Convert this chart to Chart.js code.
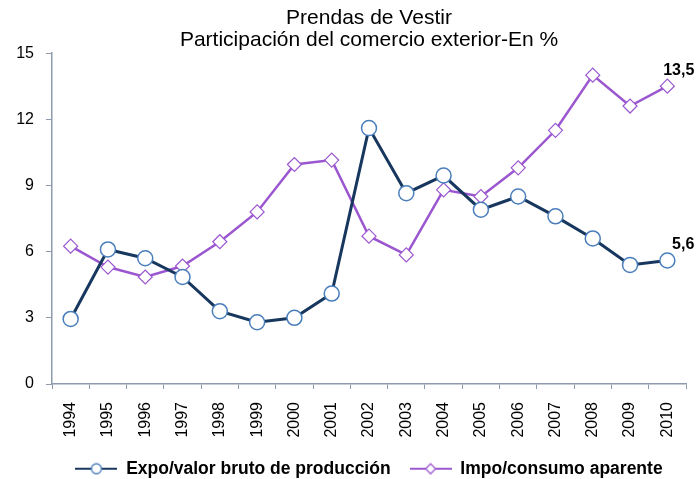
<!DOCTYPE html>
<html lang="es">
<head>
    <meta charset="UTF-8">
    <title>Prendas de Vestir</title>
    <style>
        body {
            margin: 0;
            background: #fff;
        }

        .chart-box {
            width: 700px;
            height: 479px;
        }
    </style>
</head>
<body>
    <div class="chart-box">
        <canvas id="tradeChart"></canvas>
    </div>
    <script src="https://cdn.jsdelivr.net/npm/chart.js"></script>
    <script>
        const years = ['1994', '1995', '1996', '1997', '1998', '1999', '2000', '2001', '2002',
            '2003', '2004', '2005', '2006', '2007', '2008', '2009', '2010'];
        const expoValues = [2.95, 6.1, 5.7, 4.85, 3.3, 2.8, 3.0, 4.1, 11.6,
            8.65, 9.45, 7.9, 8.5, 7.6, 6.6, 5.4, 5.6];
        const impoValues = [6.25, 5.3, 4.85, 5.35, 6.45, 7.8, 9.95, 10.15, 6.7,
            5.85, 8.8, 8.5, 9.8, 11.5, 14.0, 12.6, 13.5];
        const yTicks = [0, 3, 6, 9, 12, 15];
        const endLabels = ['5,6', '13,5'];

        const expoLine = '#17375e';
        const expoMarker = '#4a7ebb';
        const impoLine = '#9b57cf';
        const axisColor = '#8e9aae';
        const font = "'Liberation Sans', Arial, sans-serif";

        // legend picture: a short line with the marker in the middle
        function legendIcon(lineColor, markerColor, kind) {
            const c = document.createElement('canvas');
            c.width = 42;
            c.height = 14;
            const g = c.getContext('2d');
            g.strokeStyle = lineColor;
            g.lineWidth = 2;
            g.beginPath();
            g.moveTo(0, 7);
            g.lineTo(42, 7);
            g.stroke();
            g.fillStyle = '#fff';
            g.strokeStyle = markerColor;
            g.lineWidth = 1.3;
            g.beginPath();
            if (kind === 'circle') {
                g.arc(21, 7, 5, 0, Math.PI * 2);
            } else {
                g.moveTo(21, 2);
                g.lineTo(26, 7);
                g.lineTo(21, 12);
                g.lineTo(16, 7);
                g.closePath();
            }
            g.fill();
            g.stroke();
            return c;
        }

        const endLabelPlugin = {
            id: 'endLabels',
            afterDatasetsDraw(chart) {
                const ctx = chart.ctx;
                ctx.save();
                ctx.font = 'bold 16px ' + font;
                ctx.fillStyle = '#000';
                ctx.textAlign = 'right';
                ctx.textBaseline = 'middle';
                chart.data.datasets.forEach((ds, i) => {
                    const meta = chart.getDatasetMeta(i);
                    const pt = meta.data[meta.data.length - 1];
                    ctx.fillText(endLabels[i], pt.x + 27, pt.y - 16);
                });
                ctx.restore();
            }
        };

        const ctx = document.getElementById('tradeChart').getContext('2d');
        new Chart(ctx, {
            type: 'line',
            data: {
                labels: years,
                datasets: [{
                    label: 'Expo/valor bruto de producción',
                    data: expoValues,
                    borderColor: expoLine,
                    borderWidth: 3,
                    pointStyle: 'circle',
                    pointRadius: 7.5,
                    pointBackgroundColor: '#fff',
                    pointBorderColor: expoMarker,
                    pointBorderWidth: 1.5,
                    tension: 0
                }, {
                    label: 'Impo/consumo aparente',
                    data: impoValues,
                    borderColor: impoLine,
                    borderWidth: 2.5,
                    pointStyle: 'rectRot',
                    pointRadius: 7,
                    pointBackgroundColor: '#fff',
                    pointBorderColor: impoLine,
                    pointBorderWidth: 1.2,
                    tension: 0
                }]
            },
            options: {
                responsive: true,
                maintainAspectRatio: false,
                animation: false,
                layout: {
                    padding: { left: 0, right: 14, top: 0, bottom: 0 }
                },
                plugins: {
                    title: {
                        display: true,
                        fullSize: false,
                        text: ['Prendas de Vestir', 'Participación del comercio exterior-En %'],
                        color: '#000',
                        font: { family: font, size: 21, weight: 'normal', lineHeight: 1.05 },
                        padding: { top: 7, bottom: 2 }
                    },
                    legend: {
                        position: 'bottom',
                        fullSize: false,
                        maxHeight: 38,
                        labels: {
                            usePointStyle: true,
                            pointStyleWidth: 42,
                            padding: 19,
                            color: '#000',
                            font: { family: font, size: 17.5, weight: 'bold' },
                            generateLabels(chart) {
                                return chart.data.datasets.map((ds, i) => ({
                                    text: ds.label,
                                    pointStyle: i === 0
                                        ? legendIcon(expoLine, expoMarker, 'circle')
                                        : legendIcon(impoLine, impoLine, 'diamond'),
                                    fillStyle: '#fff',
                                    strokeStyle: ds.borderColor,
                                    lineWidth: 0,
                                    fontColor: '#000',
                                    datasetIndex: i
                                }));
                            }
                        }
                    },
                    tooltip: { enabled: false }
                },
                scales: {
                    x: {
                        offset: true,
                        afterFit(scale) {
                            scale.height = 57;
                        },
                        grid: {
                            offset: true,
                            drawOnChartArea: false,
                            tickLength: 5,
                            color: axisColor
                        },
                        border: { color: axisColor, width: 1.5 },
                        ticks: {
                            color: '#000',
                            font: { family: font, size: 16 },
                            minRotation: 90,
                            maxRotation: 90,
                            padding: 13
                        }
                    },
                    y: {
                        min: 0,
                        max: 15,
                        afterBuildTicks(scale) {
                            scale.ticks = yTicks.map(v => ({ value: v }));
                        },
                        afterFit(scale) {
                            scale.width = 52;
                        },
                        grid: {
                            drawOnChartArea: false,
                            tickLength: 6,
                            color: axisColor
                        },
                        border: { color: axisColor, width: 1.5 },
                        ticks: {
                            color: '#000',
                            font: { family: font, size: 16 },
                            padding: 12
                        }
                    }
                }
            },
            plugins: [endLabelPlugin]
        });
    </script>
</body>
</html>
